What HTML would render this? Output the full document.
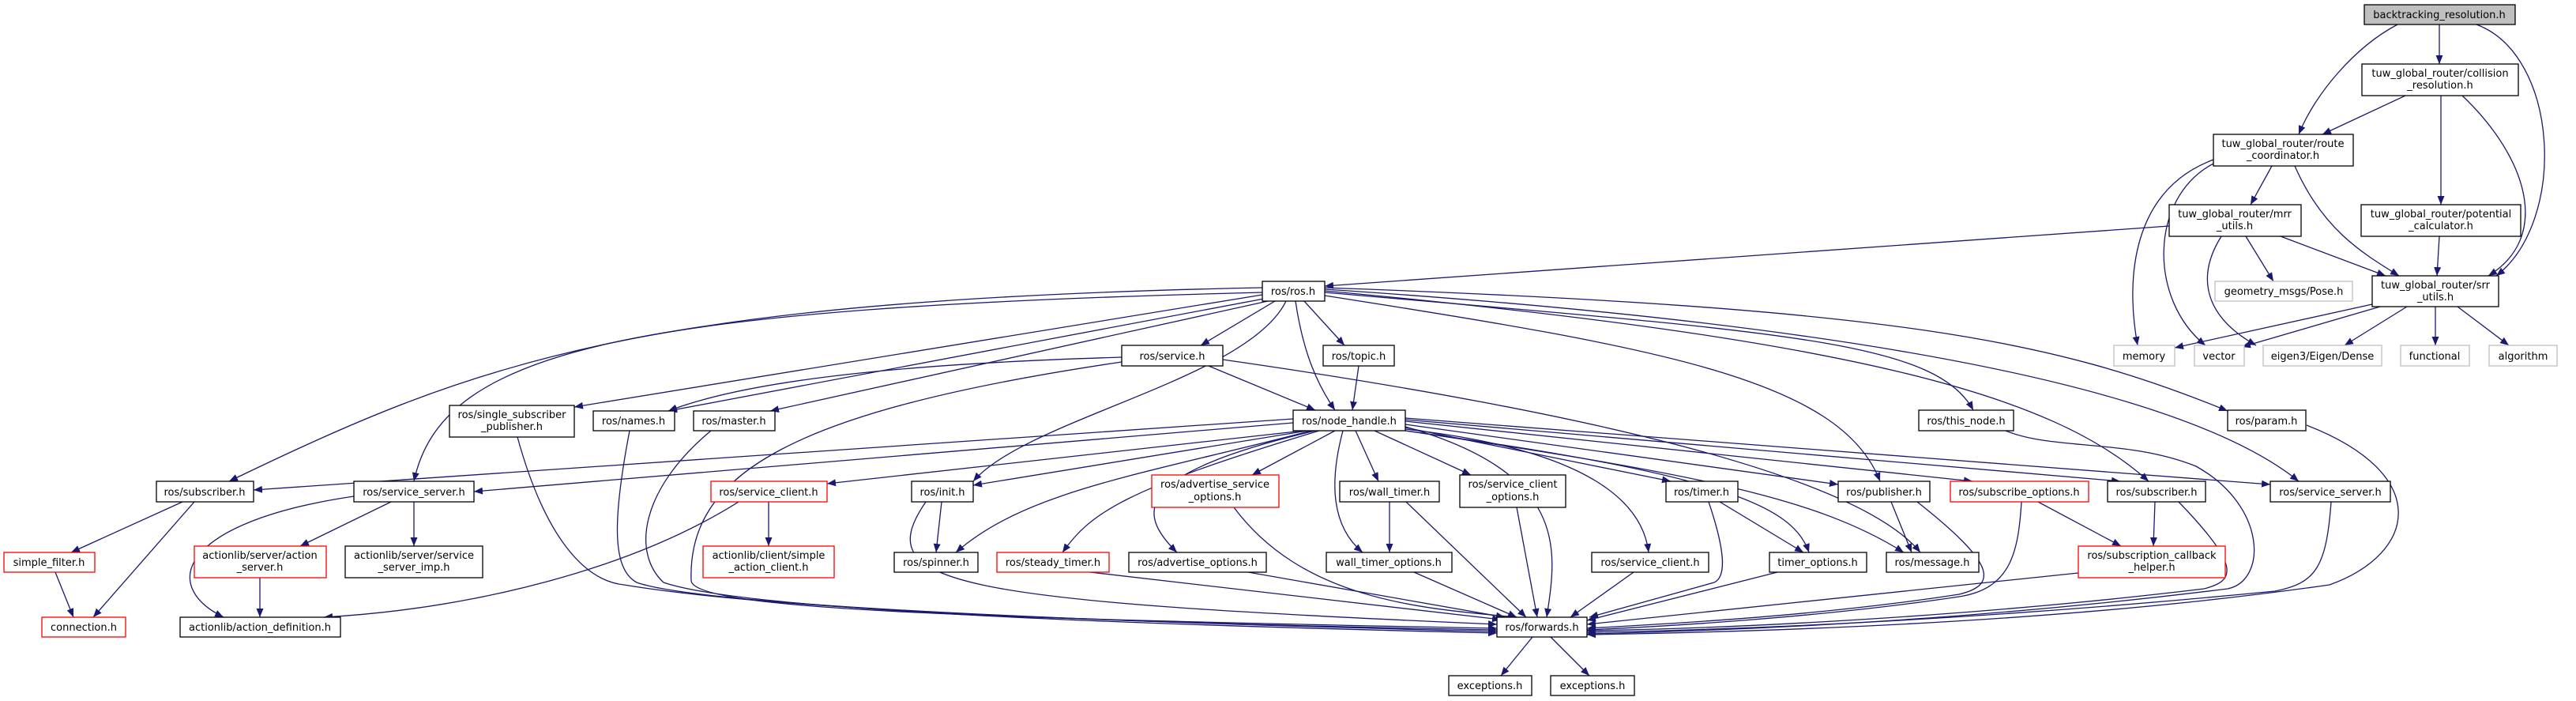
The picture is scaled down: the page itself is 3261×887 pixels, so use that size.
<!DOCTYPE html>
<html><head><meta charset="utf-8"><style>
html,body{margin:0;padding:0;background:#fff;}
svg{display:block;}
text{font-family:"DejaVu Sans","Liberation Sans",sans-serif;font-size:13px;text-anchor:middle;fill:#000;}
.e{fill:none;stroke:#191970;stroke-width:1.3;marker-end:url(#a);}
.n{fill:#fff;stroke:#000;stroke-width:1.3;}
.r{fill:#fff;stroke:#ff0000;stroke-width:1.3;}
.g{fill:#fff;stroke:#bfbfbf;stroke-width:1.3;}
</style></head><body>
<svg width="3261" height="887" viewBox="0 0 3261 887" xmlns="http://www.w3.org/2000/svg">
<defs><marker id="a" markerWidth="11" markerHeight="9" refX="11" refY="4.5" orient="auto" markerUnits="userSpaceOnUse"><path d="M0,0 L11,4.5 L0,9z" fill="#191970"/></marker></defs>
<g>
<path class="e" d="M3088,31 L3088,81"/>
<path class="e" d="M3035,31 C2980,60 2930,120 2910,170"/>
<path class="e" d="M3135,31 C3240,70 3250,280 3160,349"/>
<path class="e" d="M3045,121 L2940,170"/>
<path class="e" d="M3090,121 L3090,259"/>
<path class="e" d="M3117,121 C3200,200 3230,300 3150,349"/>
<path class="e" d="M2802,202 C2700,240 2690,350 2706,437"/>
<path class="e" d="M2802,207 C2720,250 2720,380 2792,437"/>
<path class="e" d="M2876,210 L2849,259"/>
<path class="e" d="M2905,210 C2940,290 2990,320 3037,349"/>
<path class="e" d="M2746,286 L1677,362"/>
<path class="e" d="M2843,299 L2878,356"/>
<path class="e" d="M2887,299 L3020,349"/>
<path class="e" d="M2812,299 C2780,350 2790,400 2856,437"/>
<path class="e" d="M3088,299 L3085,349"/>
<path class="e" d="M3003,385 L2753,440"/>
<path class="e" d="M3013,388 L2838,439"/>
<path class="e" d="M3047,388 L2968,437"/>
<path class="e" d="M3083,388 L3083,437"/>
<path class="e" d="M3111,388 L3176,437"/>
<path class="e" d="M1598,364 C800,380 600,460 290,609"/>
<path class="e" d="M1598,370 C800,390 560,440 524,609"/>
<path class="e" d="M1598,373 L727,515"/>
<path class="e" d="M1600,378 L846,520"/>
<path class="e" d="M1605,381 L975,520"/>
<path class="e" d="M1614,381 L1520,437"/>
<path class="e" d="M1628,381 C1580,480 1300,530 1232,609"/>
<path class="e" d="M1640,381 C1650,450 1670,490 1690,519"/>
<path class="e" d="M1651,381 L1702,437"/>
<path class="e" d="M1677,370 C2250,420 2450,430 2498,519"/>
<path class="e" d="M1677,374 C2100,440 2330,480 2380,609"/>
<path class="e" d="M1677,368 C2350,430 2600,500 2720,609"/>
<path class="e" d="M1677,366 C2500,420 2800,520 2910,609"/>
<path class="e" d="M1677,364 C2400,390 2600,430 2820,520"/>
<path class="e" d="M1420,452 C1150,460 950,480 846,520"/>
<path class="e" d="M1530,463 L1665,519"/>
<path class="e" d="M1420,458 C1000,520 870,600 875,735 C880,770 1200,782 1895,795"/>
<path class="e" d="M1548,455 C2000,520 2350,600 2431,699"/>
<path class="e" d="M1720,463 L1712,519"/>
<path class="e" d="M1637,530 L321,620"/>
<path class="e" d="M1637,535 L600,622"/>
<path class="e" d="M1650,545 L1047,612"/>
<path class="e" d="M1655,545 L1232,614"/>
<path class="e" d="M1660,545 C1450,600 1300,620 1210,699"/>
<path class="e" d="M1670,545 C1420,620 1380,650 1345,699"/>
<path class="e" d="M1690,545 L1585,601"/>
<path class="e" d="M1665,545 C1430,600 1440,650 1490,699"/>
<path class="e" d="M1716,545 L1745,609"/>
<path class="e" d="M1700,545 C1680,620 1690,670 1725,699"/>
<path class="e" d="M1740,545 L1862,601"/>
<path class="e" d="M1779,540 C1990,600 1970,700 1958,781"/>
<path class="e" d="M1779,543 C2020,570 2080,640 2087,699"/>
<path class="e" d="M1779,541 L2115,609"/>
<path class="e" d="M1779,545 C2180,600 2270,640 2290,699"/>
<path class="e" d="M1779,537 L2327,613"/>
<path class="e" d="M1779,545 C2150,600 2300,630 2410,699"/>
<path class="e" d="M1779,533 L2497,609"/>
<path class="e" d="M1779,531 L2684,609"/>
<path class="e" d="M1779,529 L2874,613"/>
<path class="e" d="M655,553 C690,680 740,735 790,740 C1000,775 1500,790 1895,797"/>
<path class="e" d="M797,545 C775,660 775,720 806,737 C900,770 1500,790 1895,799"/>
<path class="e" d="M900,545 C810,620 800,700 840,737 C950,775 1500,792 1895,801"/>
<path class="e" d="M231,635 L90,699"/>
<path class="e" d="M246,635 L118,781"/>
<path class="e" d="M70,724 L93,781"/>
<path class="e" d="M495,635 L380,691"/>
<path class="e" d="M524,635 L524,691"/>
<path class="e" d="M448,628 C230,660 200,740 283,781"/>
<path class="e" d="M329,731 L329,781"/>
<path class="e" d="M973,635 L973,691"/>
<path class="e" d="M935,635 C800,720 600,770 410,781"/>
<path class="e" d="M1192,635 L1185,699"/>
<path class="e" d="M1172,635 C1100,740 1200,760 1895,790"/>
<path class="e" d="M1380,724 L1900,784"/>
<path class="e" d="M1562,642 C1650,760 1800,770 1920,781"/>
<path class="e" d="M1580,724 L1905,781"/>
<path class="e" d="M1759,635 L1759,699"/>
<path class="e" d="M1780,635 L1932,781"/>
<path class="e" d="M1790,724 L1920,781"/>
<path class="e" d="M1920,642 L1946,781"/>
<path class="e" d="M2068,724 L1988,781"/>
<path class="e" d="M2163,635 C2185,700 2185,730 2170,737 L2012,781"/>
<path class="e" d="M2177,635 L2283,699"/>
<path class="e" d="M2250,724 L2009,785"/>
<path class="e" d="M2394,635 L2420,699"/>
<path class="e" d="M2427,635 C2526,713 2530,740 2480,752 C2300,780 2100,790 2009,795"/>
<path class="e" d="M2559,635 C2555,700 2545,745 2480,755 C2300,782 2100,793 2009,797"/>
<path class="e" d="M2580,635 L2685,691"/>
<path class="e" d="M2728,635 L2726,691"/>
<path class="e" d="M2758,635 C2837,717 2830,735 2790,745 C2500,780 2200,795 2009,798"/>
<path class="e" d="M2631,725 L2009,790"/>
<path class="e" d="M2951,635 C2945,720 2930,738 2880,748 C2500,785 2200,797 2009,800"/>
<path class="e" d="M2539,545 C2600,570 2692,555 2780,590 C2870,640 2870,735 2820,745 C2500,785 2200,798 2009,802"/>
<path class="e" d="M2920,538 C3080,600 3060,700 2949,740 C2600,790 2200,800 2009,803"/>
<path class="e" d="M1940,806 L1900,855"/>
<path class="e" d="M1963,806 L2012,855"/>
</g>
<g>
<rect x="2993" y="6" width="191" height="25" fill="#bfbfbf" stroke="#000" stroke-width="1.3"/><text x="3088" y="23">backtracking_resolution.h</text>
<rect class="n" x="2990" y="81" width="198" height="40"/><text x="3089" y="97">tuw_global_router/collision</text><text x="3089" y="112">_resolution.h</text>
<rect class="n" x="2802" y="170" width="177" height="40"/><text x="2890" y="186">tuw_global_router/route</text><text x="2890" y="201">_coordinator.h</text>
<rect class="n" x="2746" y="259" width="167" height="40"/><text x="2829" y="275">tuw_global_router/mrr</text><text x="2829" y="290">_utils.h</text>
<rect class="n" x="2989" y="259" width="202" height="40"/><text x="3090" y="275">tuw_global_router/potential</text><text x="3090" y="290">_calculator.h</text>
<rect class="n" x="3003" y="349" width="160" height="39"/><text x="3083" y="365">tuw_global_router/srr</text><text x="3083" y="380">_utils.h</text>
<rect class="g" x="2804" y="356" width="174" height="25"/><text x="2891" y="373">geometry_msgs/Pose.h</text>
<rect class="n" x="1598" y="356" width="79" height="25"/><text x="1637" y="373">ros/ros.h</text>
<rect class="g" x="2676" y="437" width="77" height="26"/><text x="2714" y="455">memory</text>
<rect class="g" x="2778" y="437" width="63" height="26"/><text x="2809" y="455">vector</text>
<rect class="g" x="2865" y="437" width="150" height="26"/><text x="2940" y="455">eigen3/Eigen/Dense</text>
<rect class="g" x="3039" y="437" width="87" height="26"/><text x="3082" y="455">functional</text>
<rect class="g" x="3151" y="437" width="86" height="26"/><text x="3194" y="455">algorithm</text>
<rect class="n" x="1420" y="437" width="128" height="26"/><text x="1484" y="455">ros/service.h</text>
<rect class="n" x="1675" y="437" width="90" height="26"/><text x="1720" y="455">ros/topic.h</text>
<rect class="n" x="569" y="513" width="158" height="40"/><text x="648" y="529">ros/single_subscriber</text><text x="648" y="544">_publisher.h</text>
<rect class="n" x="751" y="520" width="103" height="25"/><text x="802" y="537">ros/names.h</text>
<rect class="n" x="878" y="520" width="103" height="25"/><text x="929" y="537">ros/master.h</text>
<rect class="n" x="1637" y="519" width="142" height="26"/><text x="1708" y="537">ros/node_handle.h</text>
<rect class="n" x="2429" y="519" width="120" height="26"/><text x="2489" y="537">ros/this_node.h</text>
<rect class="n" x="2820" y="519" width="99" height="26"/><text x="2869" y="537">ros/param.h</text>
<rect class="n" x="198" y="609" width="123" height="26"/><text x="259" y="627">ros/subscriber.h</text>
<rect class="n" x="448" y="609" width="152" height="26"/><text x="524" y="627">ros/service_server.h</text>
<rect class="r" x="900" y="609" width="147" height="26"/><text x="973" y="627">ros/service_client.h</text>
<rect class="n" x="1154" y="609" width="78" height="26"/><text x="1193" y="627">ros/init.h</text>
<rect class="r" x="1458" y="601" width="161" height="41"/><text x="1538" y="617">ros/advertise_service</text><text x="1538" y="633">_options.h</text>
<rect class="n" x="1696" y="609" width="126" height="26"/><text x="1759" y="627">ros/wall_timer.h</text>
<rect class="n" x="1848" y="601" width="134" height="41"/><text x="1915" y="617">ros/service_client</text><text x="1915" y="633">_options.h</text>
<rect class="n" x="2109" y="609" width="91" height="26"/><text x="2154" y="627">ros/timer.h</text>
<rect class="n" x="2327" y="609" width="116" height="26"/><text x="2385" y="627">ros/publisher.h</text>
<rect class="r" x="2469" y="609" width="175" height="26"/><text x="2556" y="627">ros/subscribe_options.h</text>
<rect class="n" x="2668" y="609" width="124" height="26"/><text x="2730" y="627">ros/subscriber.h</text>
<rect class="n" x="2874" y="609" width="152" height="26"/><text x="2950" y="627">ros/service_server.h</text>
<rect class="r" x="5" y="699" width="115" height="25"/><text x="62" y="716">simple_filter.h</text>
<rect class="r" x="246" y="691" width="167" height="40"/><text x="329" y="707">actionlib/server/action</text><text x="329" y="722">_server.h</text>
<rect class="n" x="437" y="691" width="174" height="40"/><text x="524" y="707">actionlib/server/service</text><text x="524" y="722">_server_imp.h</text>
<rect class="r" x="890" y="691" width="166" height="40"/><text x="973" y="707">actionlib/client/simple</text><text x="973" y="722">_action_client.h</text>
<rect class="n" x="1132" y="699" width="106" height="25"/><text x="1185" y="716">ros/spinner.h</text>
<rect class="r" x="1262" y="699" width="142" height="25"/><text x="1333" y="716">ros/steady_timer.h</text>
<rect class="n" x="1429" y="699" width="174" height="25"/><text x="1516" y="716">ros/advertise_options.h</text>
<rect class="n" x="1679" y="699" width="159" height="25"/><text x="1758" y="716">wall_timer_options.h</text>
<rect class="n" x="2015" y="699" width="148" height="25"/><text x="2089" y="716">ros/service_client.h</text>
<rect class="n" x="2240" y="699" width="123" height="25"/><text x="2301" y="716">timer_options.h</text>
<rect class="n" x="2388" y="699" width="117" height="25"/><text x="2446" y="716">ros/message.h</text>
<rect class="r" x="2631" y="691" width="186" height="40"/><text x="2724" y="707">ros/subscription_callback</text><text x="2724" y="722">_helper.h</text>
<rect class="r" x="53" y="781" width="106" height="25"/><text x="106" y="798">connection.h</text>
<rect class="n" x="228" y="781" width="203" height="25"/><text x="329" y="798">actionlib/action_definition.h</text>
<rect class="n" x="1895" y="781" width="114" height="25"/><text x="1952" y="798">ros/forwards.h</text>
<rect class="n" x="1834" y="855" width="105" height="25"/><text x="1886" y="872">exceptions.h</text>
<rect class="n" x="1963" y="855" width="106" height="25"/><text x="2016" y="872">exceptions.h</text>
</g>
</svg>
</body></html>
